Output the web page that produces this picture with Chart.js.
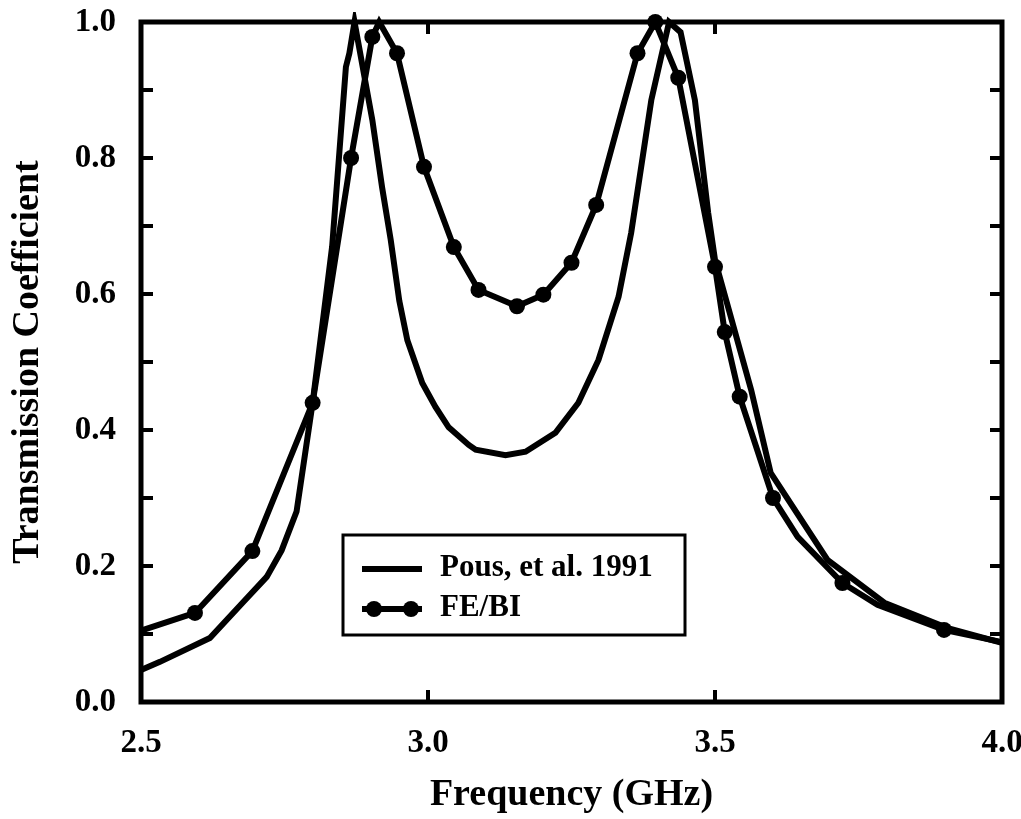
<!DOCTYPE html>
<html>
<head>
<meta charset="utf-8">
<script src="https://cdn.jsdelivr.net/npm/chart.js@4.4.1/dist/chart.umd.min.js"></script>
<style>
  html, body { margin: 0; padding: 0; background: #fff; }
  #caixa { width: 1021px; height: 819px; }
</style>
</head>
<body>
<div id="caixa"><canvas id="grafico"></canvas></div>
<script>
// Pous, et al. 1991 (linha continua)
const pousFreq = [2.5, 2.533, 2.62, 2.677, 2.719, 2.745, 2.771, 2.799, 2.833, 2.857, 2.863, 2.872,
                  2.903, 2.92, 2.935, 2.95, 2.964, 2.99, 3.013, 3.036, 3.071, 3.083, 3.135, 3.17,
                  3.222, 3.262, 3.297, 3.332, 3.354, 3.389, 3.42, 3.44, 3.465, 3.488, 3.5, 3.563,
                  3.597, 3.696, 3.795, 3.904, 4.0];
const pousT = [0.047, 0.059, 0.094, 0.146, 0.184, 0.223, 0.28, 0.44, 0.67, 0.934, 0.954, 1.0,
               0.856, 0.757, 0.68, 0.59, 0.532, 0.469, 0.434, 0.404, 0.378, 0.371, 0.363, 0.368,
               0.396, 0.44, 0.503, 0.596, 0.69, 0.885, 1.0, 0.985, 0.885, 0.72, 0.65, 0.459,
               0.337, 0.209, 0.146, 0.109, 0.087];

// FE/BI (linha com pontos)
const febiFreq = [2.5, 2.594, 2.694, 2.799, 2.866, 2.903, 2.915, 2.946, 2.993, 3.045, 3.088, 3.155,
                  3.201, 3.25, 3.293, 3.365, 3.396, 3.436, 3.5, 3.517, 3.543, 3.601, 3.644, 3.722,
                  3.783, 3.899, 4.0];
const febiT = [0.105, 0.131, 0.222, 0.44, 0.80, 0.978, 1.0, 0.954, 0.787, 0.669, 0.606, 0.582,
               0.599, 0.646, 0.731, 0.954, 1.0, 0.918, 0.64, 0.544, 0.449, 0.30, 0.243, 0.175,
               0.143, 0.106, 0.088];
// 1 = ponto desenhado com marcador
const febiMarcador = [0, 1, 1, 1, 1, 1, 0, 1, 1, 1, 1, 1,
                      1, 1, 1, 1, 1, 1, 1, 1, 1, 1, 0, 1,
                      0, 1, 0];

const xTicks = [2.5, 3.0, 3.5, 4.0];
const yTicks = [0.0, 0.2, 0.4, 0.6, 0.8, 1.0];
const yMenores = [0.1, 0.2, 0.3, 0.4, 0.5, 0.6, 0.7, 0.8, 0.9];
const xMenores = [3.0, 3.5];

const fonte = "'Liberation Serif', 'Times New Roman', serif";

function juntar(xs, ys) {
    return xs.map((x, i) => ({ x: x, y: ys[i] }));
}

// moldura grossa com marcas para dentro
const moldura = {
    id: 'moldura',
    afterDatasetsDraw(chart) {
        const ctx = chart.ctx;
        const a = chart.chartArea;
        const sx = chart.scales.x, sy = chart.scales.y;
        ctx.save();
        ctx.strokeStyle = '#000';
        ctx.lineWidth = 5;
        ctx.strokeRect(a.left, a.top, a.right - a.left, a.bottom - a.top);
        ctx.lineWidth = 4;
        ctx.beginPath();
        yMenores.forEach(v => {
            const py = sy.getPixelForValue(v);
            ctx.moveTo(a.left, py); ctx.lineTo(a.left + 12, py);
            ctx.moveTo(a.right, py); ctx.lineTo(a.right - 12, py);
        });
        xMenores.forEach(v => {
            const px = sx.getPixelForValue(v);
            ctx.moveTo(px, a.bottom); ctx.lineTo(px, a.bottom - 12);
            ctx.moveTo(px, a.top); ctx.lineTo(px, a.top + 12);
        });
        ctx.stroke();
        ctx.restore();
    }
};

// legenda dentro da area do grafico
const legendaCaixa = {
    id: 'legendaCaixa',
    afterDraw(chart) {
        const ctx = chart.ctx;
        const a = chart.chartArea;
        const bx = a.left + 202, by = a.top + 513, bw = 342, bh = 100;
        ctx.save();
        ctx.fillStyle = '#fff';
        ctx.fillRect(bx, by, bw, bh);
        ctx.strokeStyle = '#000';
        ctx.lineWidth = 3;
        ctx.strokeRect(bx, by, bw, bh);

        ctx.lineWidth = 6;
        ctx.beginPath();
        ctx.moveTo(bx + 19, by + 34); ctx.lineTo(bx + 79, by + 34);
        ctx.moveTo(bx + 19, by + 74); ctx.lineTo(bx + 79, by + 74);
        ctx.stroke();
        ctx.fillStyle = '#000';
        [bx + 31, bx + 68].forEach(cx => {
            ctx.beginPath();
            ctx.arc(cx, by + 74, 8, 0, Math.PI * 2);
            ctx.fill();
        });

        ctx.font = 'bold 31px ' + fonte;
        ctx.textBaseline = 'middle';
        ctx.textAlign = 'left';
        ctx.fillText(chart.data.datasets[0].label, bx + 97, by + 33);
        ctx.fillText(chart.data.datasets[1].label, bx + 97, by + 73);
        ctx.restore();
    }
};

function gerarGrafico() {
    const ctx = document.getElementById('grafico').getContext('2d');

    new Chart(ctx, {
        type: 'line',
        data: {
            datasets: [{
                label: 'Pous, et al. 1991',
                data: juntar(pousFreq, pousT),
                borderColor: '#000',
                borderWidth: 6,
                pointRadius: 0,
                tension: 0,
                clip: 10,
            }, {
                label: 'FE/BI',
                data: juntar(febiFreq, febiT),
                borderColor: '#000',
                backgroundColor: '#000',
                borderWidth: 6,
                pointRadius: febiMarcador.map(m => m ? 8 : 0),
                pointBorderWidth: 0,
                pointBackgroundColor: '#000',
                tension: 0,
                clip: 10,
            }]
        },
        options: {
            responsive: true,
            maintainAspectRatio: false,
            animation: false,
            devicePixelRatio: 1,
            layout: { padding: { left: 0, top: 22, right: 19, bottom: 0 } },
            plugins: {
                legend: { display: false },
                tooltip: { enabled: false },
            },
            scales: {
                x: {
                    type: 'linear',
                    min: 2.5,
                    max: 4.0,
                    afterBuildTicks: s => { s.ticks = xTicks.map(v => ({ value: v })); },
                    afterFit: s => {
                        s.height = 117;
                        s.paddingLeft = 0;
                        s.paddingRight = 0;
                    },
                    grid: { display: false },
                    border: { display: false },
                    ticks: {
                        callback: v => v.toFixed(1),
                        color: '#000',
                        font: { family: fonte, size: 33, weight: 'bold' },
                        padding: 14,
                        maxRotation: 0,
                    },
                    title: {
                        display: true,
                        text: 'Frequency (GHz)',
                        color: '#000',
                        font: { family: fonte, size: 38, weight: 'bold' },
                        padding: { top: 0, bottom: 1 },
                    }
                },
                y: {
                    min: 0,
                    max: 1,
                    afterBuildTicks: s => { s.ticks = yTicks.map(v => ({ value: v })); },
                    afterFit: s => {
                        s.width = 141;
                        s.paddingTop = 0;
                        s.paddingBottom = 0;
                    },
                    grid: { display: false },
                    border: { display: false },
                    ticks: {
                        callback: v => v.toFixed(1),
                        color: '#000',
                        font: { family: fonte, size: 33, weight: 'bold' },
                        padding: 17,
                    },
                    title: {
                        display: true,
                        text: 'Transmission Coefficient',
                        color: '#000',
                        font: { family: fonte, size: 38, weight: 'bold' },
                        padding: { top: 5, bottom: 0 },
                    }
                }
            }
        },
        plugins: [moldura, legendaCaixa]
    });
}

window.onload = function () {
    gerarGrafico();
};
</script>
</body>
</html>
